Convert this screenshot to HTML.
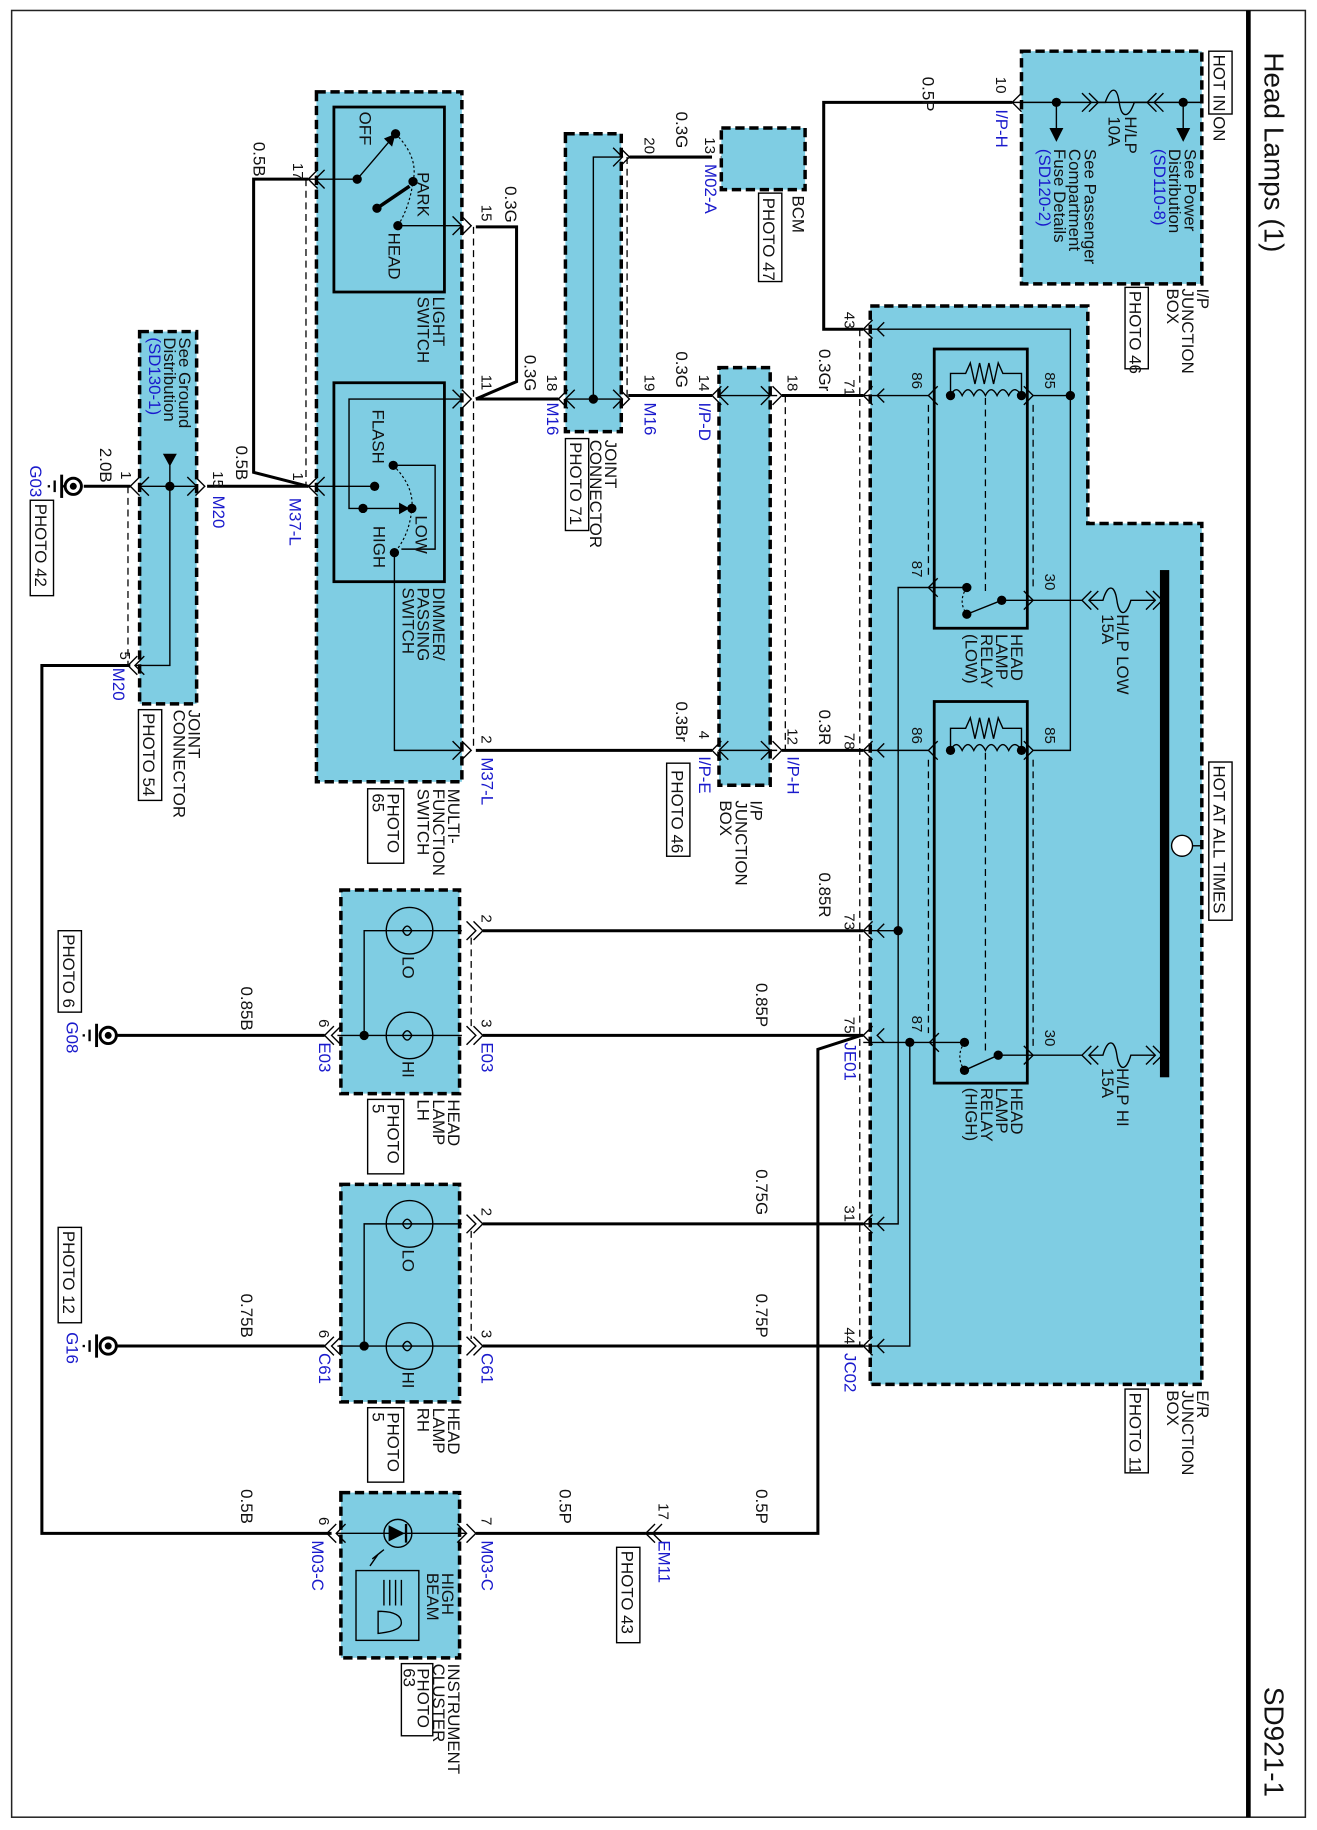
<!DOCTYPE html>
<html><head><meta charset="utf-8"><style>
html,body{margin:0;padding:0;background:#fff;}
svg{display:block;}
text{font-family:"Liberation Sans",sans-serif;font-size:14.5px;fill:#111;}
.b{fill:#1a1acc;}
.s{font-size:13px;}
.w{stroke:#000;stroke-width:2.6;fill:none;}
.n{stroke:#000;stroke-width:1.2;fill:none;}
.d{stroke:#000;stroke-width:1.1;fill:none;stroke-dasharray:6 4;}
.box{fill:#7fcde3;stroke:#000;stroke-width:3;stroke-dasharray:8 4;}
.rb{fill:none;stroke:#000;stroke-width:2.4;}
.lb{fill:#fff;stroke:#000;stroke-width:1.2;}
.dot{fill:#000;}
</style></head><body>
<svg width="1317" height="1830" viewBox="0 0 1132 1573" preserveAspectRatio="none" xmlns="http://www.w3.org/2000/svg">
<rect x="0" y="0" width="1132" height="1573" fill="#fff"/>
<rect x="10" y="9" width="1112" height="1553" fill="none" stroke="#222" stroke-width="1.3"/>
<line x1="1073" y1="9" x2="1073" y2="1562" stroke="#000" stroke-width="4"/>
<text style="font-size:24px" transform="translate(1087 45) rotate(90)">Head Lamps (1)</text>
<text style="font-size:24px" transform="translate(1087 1450) rotate(90)">SD921-1</text>

<!-- I/P fuse box -->
<rect class="box" x="878" y="44" width="155" height="200"/>
<rect class="lb" x="1039" y="44" width="20" height="54"/>
<text transform="translate(1043 47) rotate(90)">HOT IN ON</text>
<line class="n" x1="870" y1="88" x2="1033" y2="88"/>
<circle class="dot" cx="1017" cy="88" r="4"/><circle class="dot" cx="908" cy="88" r="4"/>
<line class="n" x1="1017" y1="88" x2="1017" y2="112"/><polygon class="dot" points="1011,110 1023,110 1017,122"/>
<line class="n" x1="908" y1="88" x2="908" y2="112"/><polygon class="dot" points="902,110 914,110 908,122"/>
<path class="n" d="M1000,80 L992,88 L1000,96 M994,80 L986,88 L994,96 M930,80 L938,88 L930,96 M936,80 L944,88 L936,96"/>
<path class="n" d="M944,88 H950 C955,74 960,74 962,88 C964,102 970,102 975,88 H986"/>
<text transform="translate(967 100) rotate(90)">H/LP</text>
<text transform="translate(953 100) rotate(90)">10A</text>
<text transform="translate(1018 128) rotate(90)">See Power</text>
<text transform="translate(1005 128) rotate(90)">Distribution</text>
<text class="b" transform="translate(992 128) rotate(90)">(SD110-8)</text>
<text transform="translate(932 128) rotate(90)">See Passenger</text>
<text transform="translate(919 128) rotate(90)">Compartment</text>
<text transform="translate(906 128) rotate(90)">Fuse Details</text>
<text class="b" transform="translate(893 128) rotate(90)">(SD120-2)</text>
<text transform="translate(1029 248) rotate(90)">I/P</text>
<text transform="translate(1016 248) rotate(90)">JUNCTION</text>
<text transform="translate(1003 248) rotate(90)">BOX</text>
<rect class="lb" x="967" y="247" width="20" height="70"/>
<text transform="translate(971 250) rotate(90)">PHOTO 46</text>
<path class="n" d="M878,80 L870,88 L878,96"/>
<text class="s" transform="translate(856 66) rotate(90)">10</text>
<text class="b" transform="translate(856 94) rotate(90)">I/P-H</text>
<polyline class="w" points="870,88 708,88 708,283 742,283"/>
<text transform="translate(793 66) rotate(90)">0.5P</text>

<!-- E/R junction box -->
<polygon class="box" points="748,263 935,263 935,450 1033,450 1033,1190 748,1190"/>
<rect x="997" y="490" width="8" height="436" fill="#000"/>
<line class="n" x1="1025" y1="727" x2="1033" y2="727"/>
<circle cx="1016" cy="727" r="9" fill="#fff" stroke="#000" stroke-width="1.2"/>
<rect class="lb" x="1039" y="655" width="20" height="136"/>
<text transform="translate(1043 658) rotate(90)">HOT AT ALL TIMES</text>
<text transform="translate(1029 1195) rotate(90)">E/R</text>
<text transform="translate(1016 1195) rotate(90)">JUNCTION</text>
<text transform="translate(1003 1195) rotate(90)">BOX</text>
<rect class="lb" x="967" y="1194" width="20" height="72"/>
<text transform="translate(971 1197) rotate(90)">PHOTO 11</text>
<line class="d" x1="739" y1="283" x2="739" y2="1157"/>
<g class="n">
<path d="M750,275 L742,283 L750,291"/><path d="M760,277 L754,283 L760,289"/>
<path d="M750,332 L742,340 L750,348"/><path d="M760,334 L754,340 L760,346"/>
<path d="M750,637 L742,645 L750,653"/><path d="M760,639 L754,645 L760,651"/>
<path d="M750,792 L742,800 L750,808"/><path d="M760,794 L754,800 L760,806"/>
<path d="M750,882 L742,890 L750,898"/><path d="M760,884 L754,890 L760,896"/>
<path d="M750,1044 L742,1052 L750,1060"/><path d="M760,1046 L754,1052 L760,1058"/>
<path d="M750,1149 L742,1157 L750,1165"/><path d="M760,1151 L754,1157 L760,1163"/>
</g>
<text class="s" transform="translate(726 268) rotate(90)">43</text>
<text class="s" transform="translate(726 326) rotate(90)">71</text>
<text class="s" transform="translate(726 630) rotate(90)">78</text>
<text class="s" transform="translate(726 785) rotate(90)">73</text>
<text class="s" transform="translate(726 874) rotate(90)">75</text>
<text class="s" transform="translate(726 1036) rotate(90)">31</text>
<text class="s" transform="translate(726 1141) rotate(90)">44</text>
<text class="b" transform="translate(726 896) rotate(90)">JE01</text>
<text class="b" transform="translate(726 1163) rotate(90)">JC02</text>
<polyline class="n" points="742,283 920,283 920,645 888,645"/>
<line class="n" x1="888" y1="340" x2="920" y2="340"/><circle class="dot" cx="920" cy="340" r="4"/>
<line class="n" x1="742" y1="340" x2="798" y2="340"/>
<line class="n" x1="742" y1="645" x2="798" y2="645"/>
<polyline class="n" points="798,505 772,505 772,1052 742,1052"/>
<line class="n" x1="742" y1="800" x2="772" y2="800"/><circle class="dot" cx="772" cy="800" r="4"/>
<line class="n" x1="742" y1="896" x2="799" y2="896"/>
<polyline class="n" points="782,896 782,1157 742,1157"/><circle class="dot" cx="782" cy="896" r="4"/>
<!-- low relay -->
<rect class="rb" x="803" y="300" width="80" height="240"/>
<path class="n" d="M817,340 L817,321 L830,321 L834,312 L838,330 L842,312 L846,330 L850,312 L854,330 L858,312 L862,321 L878,321 L878,340"/>
<path class="n" d="M817,340 q5,-10 10,0 q5,-10 10,0 q5,-10 10,0 q5,-10 10,0 q5,-10 10,0 q5,-10 11,0"/>
<circle class="dot" cx="817" cy="340" r="4"/><circle class="dot" cx="878" cy="340" r="4"/>
<line class="d" x1="847" y1="342" x2="847" y2="512"/>
<path class="n" d="M806,332 L798,340 L806,348 M806,497 L798,505 L806,513 M880,332 L888,340 L880,348 M880,508 L888,516 L880,524"/>
<line class="d" x1="798" y1="348" x2="798" y2="497"/><line class="d" x1="888" y1="348" x2="888" y2="508"/>
<line class="n" x1="798" y1="505" x2="831" y2="505"/><circle class="dot" cx="831" cy="505" r="4"/>
<circle class="dot" cx="831" cy="528" r="4"/><circle class="dot" cx="861" cy="516" r="4"/>
<path d="M831,505 q-8,12 0,23" fill="none" stroke="#000" stroke-dasharray="2 2"/>
<line class="n" x1="831" y1="528" x2="861" y2="516"/>
<line class="n" x1="861" y1="516" x2="888" y2="516"/>
<text class="s" transform="translate(784 320) rotate(90)">86</text>
<text class="s" transform="translate(898 320) rotate(90)">85</text>
<text class="s" transform="translate(784 482) rotate(90)">87</text>
<text class="s" transform="translate(898 493) rotate(90)">30</text>
<text transform="translate(869 545) rotate(90)">HEAD</text>
<text transform="translate(856 545) rotate(90)">LAMP</text>
<text transform="translate(843 545) rotate(90)">RELAY</text>
<text transform="translate(830 545) rotate(90)">(LOW)</text>
<line class="n" x1="888" y1="516" x2="930" y2="516"/>
<path class="n" d="M938,508 L930,516 L938,524 M944,508 L936,516 L944,524 M985,508 L993,516 L985,524 M991,508 L999,516 L991,524"/>
<path class="n" d="M936,516 H948 C952,502 958,502 960,516 C962,530 968,530 972,516 H993"/>
<text transform="translate(960 528) rotate(90)">H/LP LOW</text>
<text transform="translate(947 528) rotate(90)">15A</text>
<!-- high relay -->
<rect class="rb" x="803" y="603" width="80" height="328"/>
<path class="n" d="M817,645 L817,626 L830,626 L834,617 L838,635 L842,617 L846,635 L850,617 L854,635 L858,617 L862,626 L878,626 L878,645"/>
<path class="n" d="M817,645 q5,-10 10,0 q5,-10 10,0 q5,-10 10,0 q5,-10 10,0 q5,-10 10,0 q5,-10 11,0"/>
<circle class="dot" cx="817" cy="645" r="4"/><circle class="dot" cx="878" cy="645" r="4"/>
<line class="d" x1="847" y1="647" x2="847" y2="905"/>
<path class="n" d="M806,637 L798,645 L806,653 M807,888 L799,896 L807,904 M880,637 L888,645 L880,653 M880,899 L888,907 L880,915"/>
<line class="d" x1="798" y1="653" x2="798" y2="888"/><line class="d" x1="888" y1="653" x2="888" y2="899"/>
<line class="n" x1="799" y1="896" x2="829" y2="896"/><circle class="dot" cx="829" cy="896" r="4"/>
<circle class="dot" cx="829" cy="920" r="4"/><circle class="dot" cx="858" cy="907" r="4"/>
<path d="M829,896 q-8,12 0,24" fill="none" stroke="#000" stroke-dasharray="2 2"/>
<line class="n" x1="829" y1="920" x2="858" y2="907"/>
<line class="n" x1="858" y1="907" x2="930" y2="907"/>
<text class="s" transform="translate(784 625) rotate(90)">86</text>
<text class="s" transform="translate(898 625) rotate(90)">85</text>
<text class="s" transform="translate(784 873) rotate(90)">87</text>
<text class="s" transform="translate(898 885) rotate(90)">30</text>
<text transform="translate(869 935) rotate(90)">HEAD</text>
<text transform="translate(856 935) rotate(90)">LAMP</text>
<text transform="translate(843 935) rotate(90)">RELAY</text>
<text transform="translate(830 935) rotate(90)">(HIGH)</text>
<path class="n" d="M938,899 L930,907 L938,915 M944,899 L936,907 L944,915 M985,899 L993,907 L985,915 M991,899 L999,907 L991,915"/>
<path class="n" d="M936,907 H948 C952,893 958,893 960,907 C962,921 968,921 972,907 H993"/>
<text transform="translate(960 918) rotate(90)">H/LP HI</text>
<text transform="translate(947 918) rotate(90)">15A</text>

<!-- I/P-D block -->
<rect class="box" x="618" y="316" width="44" height="359"/>
<line class="n" x1="618" y1="340" x2="668" y2="340"/><line class="n" x1="618" y1="645" x2="668" y2="645"/>
<path class="n" d="M626,332 L618,340 L626,348 M654,332 L662,340 L654,348 M626,637 L618,645 L626,653 M654,637 L662,645 L654,653"/>
<path class="n" d="M620,332 L612,340 L620,348 M664,332 L672,340 L664,348 M620,637 L612,645 L620,653 M664,637 L672,645 L664,653"/>
<line class="d" x1="675" y1="340" x2="675" y2="645"/>
<line class="w" x1="672" y1="340" x2="742" y2="340"/>
<line class="w" x1="672" y1="645" x2="742" y2="645"/>
<text class="s" transform="translate(677 322) rotate(90)">18</text>
<text transform="translate(704 300) rotate(90)">0.3Gr</text>
<text class="s" transform="translate(677 626) rotate(90)">12</text>
<text class="b" transform="translate(677 650) rotate(90)">I/P-H</text>
<text transform="translate(704 610) rotate(90)">0.3R</text>
<text class="s" transform="translate(601 322) rotate(90)">14</text>
<text class="b" transform="translate(601 346) rotate(90)">I/P-D</text>
<text class="s" transform="translate(601 628) rotate(90)">4</text>
<text class="b" transform="translate(601 650) rotate(90)">I/P-E</text>
<text transform="translate(645 688) rotate(90)">I/P</text>
<text transform="translate(632 688) rotate(90)">JUNCTION</text>
<text transform="translate(619 688) rotate(90)">BOX</text>
<rect class="lb" x="573" y="656" width="20" height="80"/>
<text transform="translate(577 662) rotate(90)">PHOTO 46</text>
<line class="w" x1="612" y1="340" x2="540" y2="340"/>
<text transform="translate(581 302) rotate(90)">0.3G</text>
<line class="w" x1="612" y1="645" x2="409" y2="645"/>
<text transform="translate(581 603) rotate(90)">0.3Br</text>

<!-- joint connector M16 -->
<rect class="box" x="486" y="115" width="48" height="256"/>
<polyline class="n" points="510,343 510,135 535,135"/>
<line class="n" x1="486" y1="343" x2="535" y2="343"/><circle class="dot" cx="510" cy="343" r="4"/>
<path class="n" d="M494,335 L486,343 L494,351 M527,335 L535,343 L527,351 M527,127 L535,135 L527,143"/>
<path class="n" d="M533,127 L541,135 L533,143 M533,335 L541,343 L533,351 M488,335 L480,343 L488,351"/>
<line class="d" x1="539" y1="135" x2="539" y2="343"/>
<line class="w" x1="541" y1="135" x2="612" y2="135"/>
<path class="n" d="M628,127 L620,135 L628,143"/>
<rect class="box" x="620" y="110" width="72" height="53"/>
<text class="s" transform="translate(554 118) rotate(90)">20</text>
<text transform="translate(581 96) rotate(90)">0.3G</text>
<text class="s" transform="translate(606 118) rotate(90)">13</text>
<text class="b" transform="translate(606 141) rotate(90)">M02-A</text>
<text transform="translate(681 168) rotate(90)">BCM</text>
<rect class="lb" x="652" y="166" width="20" height="76"/>
<text transform="translate(656 170) rotate(90)">PHOTO 47</text>
<text class="s" transform="translate(554 322) rotate(90)">19</text>
<text class="b" transform="translate(554 346) rotate(90)">M16</text>
<text class="s" transform="translate(470 322) rotate(90)">18</text>
<text class="b" transform="translate(470 346) rotate(90)">M16</text>
<text transform="translate(451 305) rotate(90)">0.3G</text>
<text transform="translate(520 378) rotate(90)">JOINT</text>
<text transform="translate(507 378) rotate(90)">CONNECTOR</text>
<rect class="lb" x="486" y="377" width="20" height="79"/>
<text transform="translate(490 380) rotate(90)">PHOTO 71</text>
<line class="w" x1="480" y1="343" x2="409" y2="343"/>
<polyline class="w" points="409,195 444,195 444,328 409,343"/>
<text class="s" transform="translate(414 176) rotate(90)">15</text>
<text transform="translate(434 160) rotate(90)">0.3G</text>
<text class="s" transform="translate(414 322) rotate(90)">11</text>

<!-- multi function switch -->
<rect class="box" x="272" y="79" width="125" height="593"/>
<line class="d" x1="407" y1="195" x2="407" y2="645"/>
<line class="d" x1="263" y1="154" x2="263" y2="418"/>
<rect class="rb" x="287" y="92" width="95" height="159"/>
<rect class="rb" x="287" y="329" width="95" height="171"/>
<line class="n" x1="265" y1="154" x2="307" y2="154"/>
<circle class="dot" cx="307" cy="154" r="4"/>
<line class="n" x1="307" y1="154" x2="336" y2="120"/><polygon class="dot" points="340,115 330,119 337,126"/>
<circle class="dot" cx="340" cy="115" r="4"/>
<circle class="dot" cx="355" cy="156" r="4"/>
<line x1="324" y1="179" x2="352" y2="160" stroke="#000" stroke-width="3"/><circle class="dot" cx="324" cy="179" r="4"/>
<circle class="dot" cx="342" cy="194" r="4"/>
<path d="M340,115 Q360,135 355,156 Q352,178 342,194" fill="none" stroke="#000" stroke-dasharray="2 2"/>
<line class="n" x1="342" y1="194" x2="397" y2="194"/>
<path class="n" d="M389,186 L397,194 L389,202 M397,186 L405,194 L397,202"/>
<path class="n" d="M273,146 L265,154 L273,162 M279,146 L271,154 L279,162"/>
<text transform="translate(309 96) rotate(90)">OFF</text>
<text transform="translate(359 148) rotate(90)">PARK</text>
<text transform="translate(334 200) rotate(90)">HEAD</text>
<text transform="translate(372 255) rotate(90)">LIGHT</text>
<text transform="translate(359 255) rotate(90)">SWITCH</text>
<line class="n" x1="265" y1="418" x2="322" y2="418"/><circle class="dot" cx="322" cy="418" r="4"/>
<path class="n" d="M273,410 L265,418 L273,426 M279,410 L271,418 L279,426"/>
<polyline class="n" points="397,343 300,343 300,437 312,437"/>
<path class="n" d="M389,335 L397,343 L389,351 M397,335 L405,343 L397,351"/>
<circle class="dot" cx="312" cy="437" r="4"/>
<line class="n" x1="312" y1="437" x2="348" y2="437"/><polygon class="dot" points="352,437 343,432 343,442"/>
<circle class="dot" cx="354" cy="437" r="4"/>
<circle class="dot" cx="338" cy="400" r="4"/><circle class="dot" cx="339" cy="475" r="4"/>
<path d="M338,400 Q356,418 354,437 Q352,460 339,475" fill="none" stroke="#000" stroke-dasharray="2 2"/>
<polyline class="n" points="338,400 374,400 374,472 345,472"/>
<polyline class="n" points="339,475 339,645 397,645"/>
<path class="n" d="M389,637 L397,645 L389,653 M397,637 L405,645 L397,653"/>
<text transform="translate(320 352) rotate(90)">FLASH</text>
<text transform="translate(357 443) rotate(90)">LOW</text>
<text transform="translate(321 452) rotate(90)">HIGH</text>
<text transform="translate(372 505) rotate(90)">DIMMER/</text>
<text transform="translate(359 505) rotate(90)">PASSING</text>
<text transform="translate(346 505) rotate(90)">SWITCH</text>
<text transform="translate(385 678) rotate(90)">MULTI-</text>
<text transform="translate(372 678) rotate(90)">FUNCTION</text>
<text transform="translate(359 678) rotate(90)">SWITCH</text>
<rect class="lb" x="316" y="678" width="31" height="64"/>
<text transform="translate(333 682) rotate(90)">PHOTO</text>
<text transform="translate(320 682) rotate(90)">65</text>
<text class="s" transform="translate(414 632) rotate(90)">2</text>
<text class="b" transform="translate(414 651) rotate(90)">M37-L</text>
<polyline class="w" points="265,154 218,154 218,406 265,418"/>
<line class="w" x1="265" y1="418" x2="178" y2="418"/>
<text class="s" transform="translate(252 140) rotate(90)">17</text>
<text transform="translate(218 122) rotate(90)">0.5B</text>
<text class="s" transform="translate(252 406) rotate(90)">1</text>
<text transform="translate(203 383) rotate(90)">0.5B</text>
<text class="b" transform="translate(249 428) rotate(90)">M37-L</text>

<!-- joint connector M20 -->
<rect class="box" x="120" y="285" width="49" height="320"/>
<line class="d" x1="110" y1="418" x2="110" y2="572"/>
<line class="n" x1="120" y1="418" x2="170" y2="418"/><circle class="dot" cx="146" cy="418" r="4"/>
<line class="n" x1="146" y1="400" x2="146" y2="418"/><polygon class="dot" points="140,390 152,390 146,401"/>
<polyline class="n" points="146,418 146,572 116,572"/>
<path class="n" d="M128,410 L120,418 L128,426 M161,410 L169,418 L161,426 M124,564 L116,572 L124,580"/>
<path class="n" d="M120,410 L112,418 L120,426 M168,410 L176,418 L168,426 M118,564 L110,572 L118,580"/>
<text transform="translate(154 290) rotate(90)">See Ground</text>
<text transform="translate(141 290) rotate(90)">Distribution</text>
<text class="b" transform="translate(128 290) rotate(90)">(SD130-1)</text>
<text class="s" transform="translate(104 405) rotate(90)">1</text>
<text transform="translate(86 385) rotate(90)">2.0B</text>
<text class="s" transform="translate(183 405) rotate(90)">15</text>
<text class="b" transform="translate(183 426) rotate(90)">M20</text>
<text class="s" transform="translate(103 560) rotate(90)">5</text>
<text class="b" transform="translate(97 574) rotate(90)">M20</text>
<text transform="translate(162 610) rotate(90)">JOINT</text>
<text transform="translate(149 610) rotate(90)">CONNECTOR</text>
<rect class="lb" x="119" y="610" width="20" height="78"/>
<text transform="translate(123 613) rotate(90)">PHOTO 54</text>
<line class="w" x1="112" y1="418" x2="72" y2="418"/>
<polyline class="w" points="112,572 36,572 36,1318 285,1318"/>

<!-- grounds -->
<g>
<circle cx="63" cy="418" r="7" fill="#fff" stroke="#000" stroke-width="2.5"/><circle class="dot" cx="63" cy="418" r="3"/>
<line x1="53" y1="408" x2="53" y2="428" stroke="#000" stroke-width="2.5"/>
<line x1="47" y1="413" x2="47" y2="423" stroke="#000" stroke-width="2"/>
<line x1="42" y1="417" x2="42" y2="419" stroke="#000" stroke-width="2"/>
<line x1="53" y1="418" x2="56" y2="418" stroke="#000" stroke-width="2"/>
</g>
<text class="b" transform="translate(26 400) rotate(90)">G03</text>
<rect class="lb" x="26" y="430" width="20" height="82"/>
<text transform="translate(30 433) rotate(90)">PHOTO 42</text>
<g>
<circle cx="93" cy="890" r="7" fill="#fff" stroke="#000" stroke-width="2.5"/><circle class="dot" cx="93" cy="890" r="3"/>
<line x1="83" y1="880" x2="83" y2="900" stroke="#000" stroke-width="2.5"/>
<line x1="77" y1="885" x2="77" y2="895" stroke="#000" stroke-width="2"/>
<line x1="72" y1="889" x2="72" y2="891" stroke="#000" stroke-width="2"/>
</g>
<text class="b" transform="translate(57 878) rotate(90)">G08</text>
<rect class="lb" x="50" y="800" width="20" height="70"/>
<text transform="translate(54 803) rotate(90)">PHOTO 6</text>
<g>
<circle cx="93" cy="1157" r="7" fill="#fff" stroke="#000" stroke-width="2.5"/><circle class="dot" cx="93" cy="1157" r="3"/>
<line x1="83" y1="1147" x2="83" y2="1167" stroke="#000" stroke-width="2.5"/>
<line x1="77" y1="1152" x2="77" y2="1162" stroke="#000" stroke-width="2"/>
<line x1="72" y1="1156" x2="72" y2="1158" stroke="#000" stroke-width="2"/>
</g>
<text class="b" transform="translate(57 1145) rotate(90)">G16</text>
<rect class="lb" x="50" y="1055" width="20" height="82"/>
<text transform="translate(54 1058) rotate(90)">PHOTO 12</text>

<!-- head lamp LH -->
<rect class="box" x="293" y="765" width="102" height="175"/>
<line class="d" x1="405" y1="806" x2="405" y2="884"/>
<circle cx="352" cy="800" r="20" fill="none" stroke="#000" stroke-width="1.2"/>
<circle cx="352" cy="890" r="20" fill="none" stroke="#000" stroke-width="1.2"/>
<path class="n" d="M346,800 q4,-8 8,0 q-4,8 -8,0 M346,890 q4,-8 8,0 q-4,8 -8,0"/>
<polyline class="n" points="397,800 313,800 313,890"/>
<line class="n" x1="290" y1="890" x2="397" y2="890"/><circle class="dot" cx="313" cy="890" r="4"/>
<path class="n" d="M401,792 L409,800 L401,808 M407,792 L415,800 L407,808 M401,882 L409,890 L401,898 M407,882 L415,890 L407,898 M287,882 L279,890 L287,898 M293,882 L285,890 L293,898"/>
<text transform="translate(346 822) rotate(90)">LO</text>
<text transform="translate(346 912) rotate(90)">HI</text>
<text class="s" transform="translate(414 786) rotate(90)">2</text>
<text class="s" transform="translate(414 876) rotate(90)">3</text>
<text class="b" transform="translate(414 896) rotate(90)">E03</text>
<text class="s" transform="translate(274 876) rotate(90)">6</text>
<text class="b" transform="translate(274 896) rotate(90)">E03</text>
<text transform="translate(385 945) rotate(90)">HEAD</text>
<text transform="translate(372 945) rotate(90)">LAMP</text>
<text transform="translate(359 945) rotate(90)">LH</text>
<rect class="lb" x="316" y="945" width="31" height="64"/>
<text transform="translate(333 949) rotate(90)">PHOTO</text>
<text transform="translate(320 949) rotate(90)">5</text>
<line class="w" x1="415" y1="800" x2="742" y2="800"/>
<line class="w" x1="415" y1="890" x2="742" y2="890"/>
<line class="w" x1="279" y1="890" x2="101" y2="890"/>
<text transform="translate(704 750) rotate(90)">0.85R</text>
<text transform="translate(650 845) rotate(90)">0.85P</text>
<text transform="translate(207 848) rotate(90)">0.85B</text>

<!-- head lamp RH -->
<rect class="box" x="293" y="1018" width="102" height="187"/>
<line class="d" x1="405" y1="1058" x2="405" y2="1151"/>
<circle cx="352" cy="1052" r="20" fill="none" stroke="#000" stroke-width="1.2"/>
<circle cx="352" cy="1157" r="20" fill="none" stroke="#000" stroke-width="1.2"/>
<path class="n" d="M346,1052 q4,-8 8,0 q-4,8 -8,0 M346,1157 q4,-8 8,0 q-4,8 -8,0"/>
<polyline class="n" points="397,1052 313,1052 313,1157"/>
<line class="n" x1="290" y1="1157" x2="397" y2="1157"/><circle class="dot" cx="313" cy="1157" r="4"/>
<path class="n" d="M401,1044 L409,1052 L401,1060 M407,1044 L415,1052 L407,1060 M401,1149 L409,1157 L401,1165 M407,1149 L415,1157 L407,1165 M287,1149 L279,1157 L287,1165 M293,1149 L285,1157 L293,1165"/>
<text transform="translate(346 1074) rotate(90)">LO</text>
<text transform="translate(346 1179) rotate(90)">HI</text>
<text class="s" transform="translate(414 1038) rotate(90)">2</text>
<text class="s" transform="translate(414 1143) rotate(90)">3</text>
<text class="b" transform="translate(414 1163) rotate(90)">C61</text>
<text class="s" transform="translate(274 1143) rotate(90)">6</text>
<text class="b" transform="translate(274 1163) rotate(90)">C61</text>
<text transform="translate(385 1210) rotate(90)">HEAD</text>
<text transform="translate(372 1210) rotate(90)">LAMP</text>
<text transform="translate(359 1210) rotate(90)">RH</text>
<rect class="lb" x="316" y="1210" width="31" height="64"/>
<text transform="translate(333 1214) rotate(90)">PHOTO</text>
<text transform="translate(320 1214) rotate(90)">5</text>
<line class="w" x1="415" y1="1052" x2="742" y2="1052"/>
<line class="w" x1="415" y1="1157" x2="742" y2="1157"/>
<line class="w" x1="279" y1="1157" x2="101" y2="1157"/>
<text transform="translate(650 1005) rotate(90)">0.75G</text>
<text transform="translate(650 1112) rotate(90)">0.75P</text>
<text transform="translate(207 1112) rotate(90)">0.75B</text>

<!-- JE01 branch -->
<polyline class="w" points="740,890 703,902 703,1318 555,1318"/>
<path class="n" d="M563,1310 L555,1318 L563,1326 M569,1310 L561,1318 L569,1326"/>
<line class="w" x1="555" y1="1318" x2="409" y2="1318"/>
<text class="s" transform="translate(566 1292) rotate(90)">17</text>
<text class="b" transform="translate(566 1324) rotate(90)">EM11</text>
<rect class="lb" x="530" y="1330" width="20" height="82"/>
<text transform="translate(534 1333) rotate(90)">PHOTO 43</text>
<text transform="translate(650 1280) rotate(90)">0.5P</text>
<text transform="translate(481 1280) rotate(90)">0.5P</text>
<text transform="translate(207 1280) rotate(90)">0.5B</text>

<!-- instrument cluster -->
<rect class="box" x="293" y="1283" width="102" height="142"/>
<line class="n" x1="289" y1="1318" x2="401" y2="1318"/>
<path class="n" d="M401,1310 L409,1318 L401,1326 M297,1310 L289,1318 L297,1326 M393,1310 L401,1318 L393,1326 M289,1310 L281,1318 L289,1326"/>
<circle cx="342" cy="1318" r="12" fill="none" stroke="#000" stroke-width="1.2"/>
<polygon class="dot" points="334,1311 334,1325 348,1318"/><line x1="349" y1="1310" x2="349" y2="1326" stroke="#000" stroke-width="2"/>
<path class="n" d="M330,1332 L320,1340 M325,1336 L318,1346"/>
<rect x="306" y="1350" width="54" height="60" fill="none" stroke="#000" stroke-width="1.2"/>
<path class="n" d="M345,1358 V1380 M340,1358 V1380 M335,1358 V1380 M330,1358 V1380 M325,1385 Q345,1385 345,1395 Q345,1402 325,1404 Z"/>
<text transform="translate(380 1352) rotate(90)">HIGH</text>
<text transform="translate(367 1352) rotate(90)">BEAM</text>
<text class="s" transform="translate(414 1304) rotate(90)">7</text>
<text class="b" transform="translate(414 1324) rotate(90)">M03-C</text>
<text class="s" transform="translate(274 1304) rotate(90)">6</text>
<text class="b" transform="translate(268 1324) rotate(90)">M03-C</text>
<text transform="translate(385 1430) rotate(90)">INSTRUMENT</text>
<text transform="translate(372 1430) rotate(90)">CLUSTER</text>
<rect class="lb" x="345" y="1430" width="27" height="62"/>
<text transform="translate(359 1434) rotate(90)">PHOTO</text>
<text transform="translate(347 1434) rotate(90)">63</text>
</svg>
</body></html>
